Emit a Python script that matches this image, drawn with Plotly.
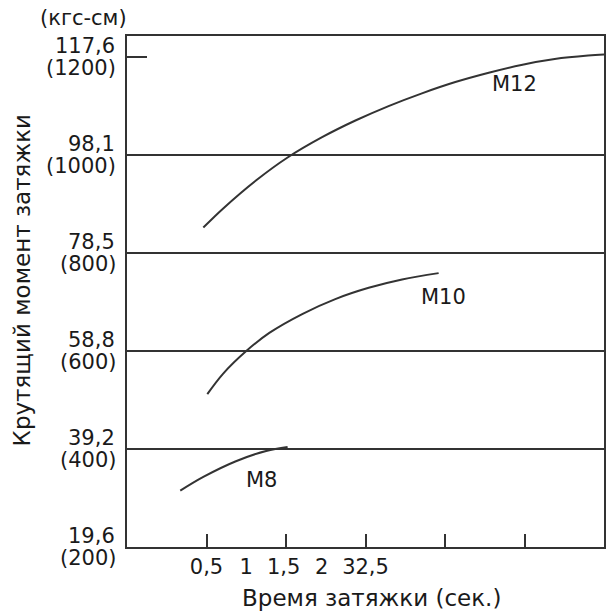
import plotly.graph_objects as go

# ---- data ----
m12_t = [0.96, 1.21, 1.63, 2.02, 2.46, 2.88, 3.29, 3.71, 4.13, 4.55, 4.96, 5.38, 5.80, 6.00]
m12_kgf = [852, 891, 949, 995, 1037, 1071, 1100, 1126, 1149, 1168, 1184, 1196, 1203, 1205]

m10_t = [1.01, 1.21, 1.50, 1.79, 2.21, 2.62, 3.04, 3.46, 3.92]
m10_kgf = [512, 554, 600, 637, 676, 706, 729, 746, 759]

m8_t = [0.67, 0.96, 1.37, 1.75, 2.02]
m8_kgf = [315, 343, 375, 396, 404]

curve_names = ["M12", "M10", "M8"]
label_pos_t = [4.88, 3.98, 1.69]
label_pos_kgf = [1145, 710, 337]

ytick_kgf = [200, 400, 600, 800, 1000, 1200]
ytick_nm = ["19,6", "39,2", "58,8", "78,5", "98,1", "117,6"]
grid_kgf = [400, 600, 800, 1000]

xtick_marks = [1, 2, 3, 4, 5]
xlabel_pos = [1.0, 1.5, 1.97, 2.45, 3.0]
xlabel_text = ["0,5", "1", "1,5", "2", "32,5"]

FONT = "DejaVu Sans, sans-serif"
TXT = "#1a1a1a"
LINE = "#333333"

fig = go.Figure()
for t, v, nm in zip([m12_t, m10_t, m8_t], [m12_kgf, m10_kgf, m8_kgf], curve_names):
    fig.add_trace(go.Scatter(x=t, y=v, mode="lines", name=nm,
                             line=dict(color=LINE, width=2, shape="spline", smoothing=1.0),
                             showlegend=False, hoverinfo="skip"))
# invisible trace for overlay axes
fig.add_trace(go.Scatter(x=[None], y=[None], xaxis="x2", yaxis="y2", showlegend=False))

annotations = []
for nm, xt, yk in zip(curve_names, label_pos_t, label_pos_kgf):
    annotations.append(dict(x=xt, y=yk, xref="x", yref="y", text=nm, showarrow=False,
                            xanchor="center", yanchor="middle",
                            font=dict(family=FONT, size=21, color=TXT)))
for v, nm in zip(ytick_kgf, ytick_nm):
    annotations.append(dict(x=0, y=v, xref="paper", yref="y", text=nm, showarrow=False,
                            xanchor="right", yanchor="middle", xshift=-10, yshift=11,
                            font=dict(family=FONT, size=21, color=TXT)))
    annotations.append(dict(x=0, y=v, xref="paper", yref="y", text=f"({v})", showarrow=False,
                            xanchor="right", yanchor="middle", xshift=-9, yshift=-11,
                            font=dict(family=FONT, size=21, color=TXT)))
annotations.append(dict(x=(83 - 127) / 479, y=(547 - 18) / 511, xref="paper", yref="paper",
                        text="(кгс-см)", showarrow=False, xanchor="center", yanchor="middle",
                        font=dict(family=FONT, size=21, color=TXT)))
annotations.append(dict(x=(373 - 127) / 479, y=-(598 - 547) / 511, xref="paper", yref="paper",
                        text="Время затяжки (сек.)", showarrow=False,
                        xanchor="center", yanchor="middle",
                        font=dict(family=FONT, size=23, color=TXT)))
annotations.append(dict(x=(22 - 127) / 479, y=(547 - 280) / 511, xref="paper", yref="paper",
                        text="Крутящий момент затяжки", showarrow=False, textangle=-90,
                        xanchor="center", yanchor="middle",
                        font=dict(family=FONT, size=23, color=TXT)))

fig.update_layout(
    width=610, height=612,
    margin=dict(l=127, r=4, t=36, b=65),
    paper_bgcolor="white", plot_bgcolor="white",
    xaxis=dict(range=[0, 6], tickvals=xtick_marks, ticks="inside", ticklen=13, tickwidth=2,
               tickcolor=LINE, showticklabels=False, showgrid=False, zeroline=False,
               showline=True, linecolor=LINE, linewidth=2, mirror=True),
    xaxis2=dict(range=[0, 6], overlaying="x", side="bottom", tickvals=xlabel_pos,
                ticktext=xlabel_text, ticks="", showgrid=False, zeroline=False,
                showline=False, ticklabelstandoff=5,
                tickfont=dict(family=FONT, size=21, color=TXT)),
    yaxis=dict(range=[200, 1243], tickvals=grid_kgf, showgrid=True, gridcolor=LINE, gridwidth=2,
               ticks="", showticklabels=False, zeroline=False,
               showline=True, linecolor=LINE, linewidth=2, mirror=True),
    yaxis2=dict(range=[200, 1243], overlaying="y", side="left", tickvals=[1200],
                ticks="inside", ticklen=20, tickwidth=2, tickcolor=LINE,
                showticklabels=False, showgrid=False, zeroline=False, showline=False),
    annotations=annotations,
)

fig.write_html("out.html")
